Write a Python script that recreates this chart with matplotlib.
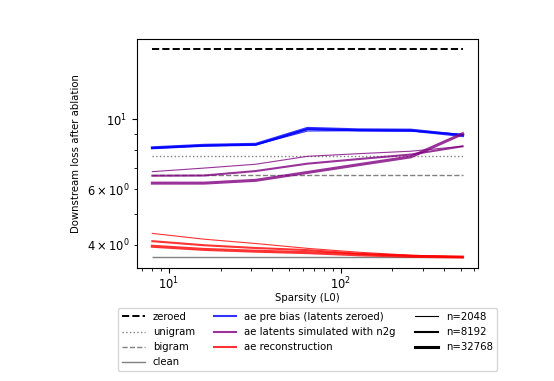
import matplotlib
matplotlib.use("Agg")
import matplotlib.pyplot as plt
from matplotlib.lines import Line2D

plt.rcParams['font.size'] = 7.3
plt.rcParams['xtick.labelsize'] = 8.3
plt.rcParams['ytick.labelsize'] = 8.3
plt.rcParams['xtick.major.pad'] = 2.5

sparsity = [8, 16, 32, 64, 128, 256, 512]
n_labels = ["n=2048", "n=8192", "n=32768"]

zeroed = 16.7
unigram = 7.63
bigram = 6.65
clean = 3.64

pre_bias = [
    [8.11, 8.24, 8.30, 9.18, 9.20, 9.18, 8.95],
    [8.11, 8.26, 8.32, 9.30, 9.24, 9.22, 8.92],
    [8.12, 8.27, 8.33, 9.36, 9.26, 9.24, 8.88],
]
n2g = [
    [6.82, 7.00, 7.20, 7.63, 7.78, 7.92, 8.21],
    [6.62, 6.63, 6.85, 7.23, 7.48, 7.73, 8.21],
    [6.27, 6.27, 6.40, 6.78, 7.18, 7.60, 9.00],
]
recon = [
    [4.34, 4.16, 4.03, 3.89, 3.78, 3.70, 3.65],
    [4.10, 3.98, 3.90, 3.84, 3.74, 3.68, 3.65],
    [3.95, 3.86, 3.81, 3.77, 3.71, 3.67, 3.65],
]

widths = [0.8, 1.5, 2.2]

fig = plt.figure(figsize=(5.54, 3.81), dpi=100)
ax = fig.add_axes([0.247, 0.297, 0.616, 0.601])

x0, x1 = sparsity[0], sparsity[-1]
ax.hlines(zeroed, x0, x1, color='black', linestyle='--', lw=1.4)
ax.hlines(unigram, x0, x1, color='gray', linestyle=':', lw=1.0)
ax.hlines(bigram, x0, x1, color='gray', linestyle='--', lw=1.0)
ax.hlines(clean, x0, x1, color='gray', linestyle='-', lw=1.0)

for i in range(3):
    ax.plot(sparsity, pre_bias[i], color='blue', lw=widths[i], alpha=0.8)
    ax.plot(sparsity, n2g[i], color='purple', lw=widths[i], alpha=0.8)
    ax.plot(sparsity, recon[i], color='red', lw=widths[i], alpha=0.8)

ax.set_xscale('log')
ax.set_yscale('log')
ax.set_xlabel('Sparsity (L0)', labelpad=0.5)
ax.set_ylabel('Downstream loss after ablation')

handles = [
    Line2D([], [], color='black', linestyle='--', lw=1.4),
    Line2D([], [], color='gray', linestyle=':', lw=1.0),
    Line2D([], [], color='gray', linestyle='--', lw=1.0),
    Line2D([], [], color='gray', linestyle='-', lw=1.0),
    Line2D([], [], color='blue', lw=1.5, alpha=0.8),
    Line2D([], [], color='purple', lw=1.5, alpha=0.8),
    Line2D([], [], color='red', lw=1.5, alpha=0.8),
    Line2D([], [], color='none'),
    Line2D([], [], color='black', lw=widths[0]),
    Line2D([], [], color='black', lw=widths[1]),
    Line2D([], [], color='black', lw=widths[2]),
]
labels = ['zeroed', 'unigram', 'bigram', 'clean',
          'ae pre bias (latents zeroed)', 'ae latents simulated with n2g',
          'ae reconstruction', ''] + n_labels
ax.legend(handles, labels, ncol=3, loc='upper center',
          bbox_to_anchor=(0.5, -0.153), fontsize=7.3, handlelength=2.2,
          handletextpad=0.8, columnspacing=1.9, labelspacing=0.5)

fig.savefig('out.png', dpi=100)
